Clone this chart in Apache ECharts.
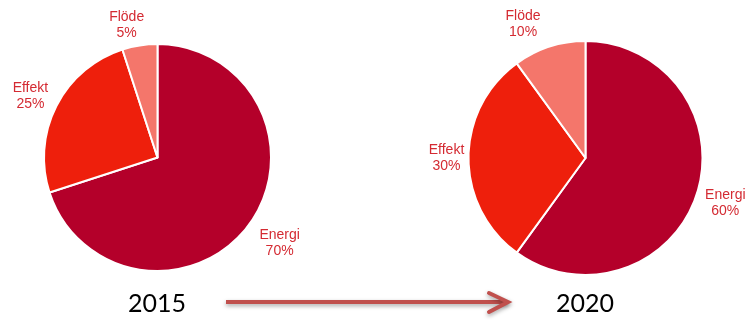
<!DOCTYPE html>
<html>
<head>
<meta charset="utf-8">
<script src="https://cdn.jsdelivr.net/npm/echarts@6/dist/echarts.min.js"></script>
<style>html,body{margin:0;padding:0;background:#fff;}#c{width:745px;height:320px;}</style>
</head>
<body>
<div id="c"></div>
<script>
const categories = ['Energi', 'Effekt', 'Flöde'];
const values2015 = [70, 25, 5];
const values2020 = [60, 30, 10];
const years = ['2015', '2020'];
const colors = ['#B4002A', '#EE1F0C', '#F4766B'];
// label nudges: horizontal padding [right, left] and vertical spacer height
const hNudge2015 = [[0, 8], [0, 6], [16, 0]];
const vNudge2015 = [0, 10, 24];
const hNudge2020 = [[0, 0], [0, 16], [34, 0]];
const vNudge2020 = [0, 0, 12];

const chart = echarts.init(document.getElementById('c'), null, {renderer: 'canvas'});

function pieData(vals) {
  return categories.map((n, i) => ({name: n, value: vals[i], itemStyle: {color: colors[i]}}));
}
function labelData(vals, hN, vN) {
  return categories.map((n, i) => ({
    name: n, value: vals[i],
    label: {
      padding: [0, hN[i][0], 0, hN[i][1]],
      formatter: vN[i] > 0 ? '{sp| }\n{b}\n{c}%' : '{b}\n{c}%',
      rich: {sp: {lineHeight: vN[i] || 1, height: vN[i] || 1, fontSize: 1}}
    }
  }));
}
function mainPie(vals, center, r) {
  return {
    type: 'pie', center: center, radius: r, startAngle: 90, clockwise: true,
    silent: true, animation: false,
    itemStyle: {borderColor: '#fff', borderWidth: 2},
    label: {show: false}, labelLine: {show: false},
    emphasis: {disabled: true},
    data: pieData(vals)
  };
}
function labelRing(vals, hN, vN, center, r0, r1) {
  return {
    type: 'pie', center: center, radius: [r0, r1], startAngle: 90, clockwise: true,
    silent: true, animation: false, avoidLabelOverlap: false,
    itemStyle: {color: 'rgba(0,0,0,0)', borderWidth: 0},
    label: {show: true, position: 'inside',
      color: '#D42A32', fontFamily: 'Liberation Sans', fontSize: 14, lineHeight: 16, align: 'center'},
    labelLine: {show: false},
    emphasis: {disabled: true},
    data: labelData(vals, hN, vN)
  };
}

chart.setOption({
  backgroundColor: '#fff',
  series: [
    mainPie(values2015, [157.5, 157.5], 113.5),
    mainPie(values2020, [585.5, 158], 117),
    labelRing(values2015, hNudge2015, vNudge2015, [157.5, 157.5], 138, 148),
    labelRing(values2020, hNudge2020, vNudge2020, [585.5, 158], 139, 149)
  ],
  graphic: [
    {type: 'text', x: 157, y: 304, style: {text: years[0], font: '25px Lato, "Open Sans", sans-serif', fill: '#000', textAlign: 'center', textVerticalAlign: 'middle'}},
    {type: 'text', x: 585, y: 304, style: {text: years[1], font: '25px Lato, "Open Sans", sans-serif', fill: '#000', textAlign: 'center', textVerticalAlign: 'middle'}},
    {type: 'polyline', shape: {points: [[226, 302], [508, 302]]},
      style: {stroke: '#C0504D', lineWidth: 4, shadowBlur: 4, shadowOffsetY: 2, shadowColor: 'rgba(0,0,0,0.35)'}},
    {type: 'polyline', shape: {points: [[489, 293], [508, 302], [489, 312]]},
      style: {stroke: '#C0504D', lineWidth: 4, lineCap: 'round', lineJoin: 'miter', fill: null, shadowBlur: 4, shadowOffsetY: 2, shadowColor: 'rgba(0,0,0,0.35)'}}
  ]
});
</script>
</body>
</html>
